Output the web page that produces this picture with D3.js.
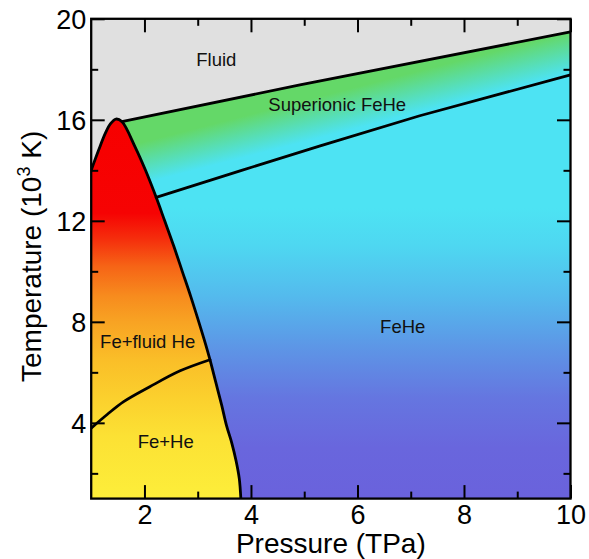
<!DOCTYPE html>
<html><head><meta charset="utf-8">
<script src="https://cdn.jsdelivr.net/npm/d3@7"></script>
<style>
html,body{margin:0;padding:0;background:#fff;}
svg{display:block;font-family:Helvetica,Arial,"Liberation Sans",sans-serif;}
</style>
</head><body>
<svg id="chart" width="589" height="559"></svg>
<script>
// ---------- data ----------
const xDomain = [1, 10];          // Pressure (TPa)
const yDomain = [1, 20];          // Temperature (10^3 K)
const xMajorTicks = [2, 4, 6, 8, 10];
const xMinorTicks = [3, 5, 7, 9];
const yMajorTicks = [4, 8, 12, 16, 20];
const yMinorTicks = [2, 6, 10, 14, 18];

// Fe (+He) stability field outline [P, T]
const feOutline = [[1,14.0],[1.14,14.8],[1.26,15.44],[1.36,15.84],[1.465,16.03],[1.575,15.93],
  [1.83,14.9],[2.02,14.0],[2.22,12.93],[2.38,12.0],[2.55,11.0],[2.71,10.0],[2.87,9.0],[3.02,8.0],
  [3.15,7.1],[3.23,6.5],[3.34,5.6],[3.45,4.7],[3.54,3.9],[3.64,3.2],[3.72,2.5],[3.78,1.8],[3.81,1.0]];
// melting line of superionic FeHe
const meltLine = [[1.575,15.93],[4.92,17.38],[10,19.48]];
// superionic transition line
const superionicLine = [[2.22,12.93],[3.81,13.99],[5.3,14.97],[7.17,16.16],[10,17.78]];
// Fe+He / Fe+fluid He boundary
const heMeltLine = [[1,3.79],[1.3,4.33],[1.61,4.84],[2.1,5.43],[2.67,6.06],[3.23,6.5]];

// region labels
const labelText = ["Fluid", "Superionic FeHe", "FeHe", "Fe+fluid He", "Fe+He"];
const labelP    = [3.35, 5.62, 6.85, 2.06, 2.40];
const labelT    = [18.14, 16.35, 7.55, 6.98, 3.02];

// colour stops [T, colour]
const feStops   = [[16,"rgb(247,0,0)"],[12.3,"rgb(246,3,3)"],[11.3,"rgb(245,45,12)"],[10.2,"rgb(246,100,22)"],
  [9,"rgb(247,140,30)"],[8,"rgb(248,163,35)"],[6.5,"rgb(250,190,40)"],[5,"rgb(251,208,45)"],
  [3.5,"rgb(252,225,52)"],[1,"rgb(253,238,58)"]];
const feHeStops = [[20,"rgb(77,227,243)"],[12.5,"rgb(77,227,243)"],[11,"rgb(78,215,241)"],[9,"rgb(84,186,237)"],
  [7,"rgb(93,150,230)"],[5,"rgb(101,118,224)"],[3,"rgb(105,102,221)"],[1,"rgb(106,98,220)"]];
const fluidColor = "#e0e0e0";
const greenColor = "rgb(100,216,104)";
const cyanColor  = "rgb(77,227,243)";
// mid-line of green->cyan transition in superionic field [P,T]
const superMid = [[2.104,14.37],[9.896,18.61]];

// ---------- drawing ----------
const svg = d3.select("#chart");
const x = d3.scaleLinear().domain(xDomain).range([91.2, 570.5]);
const y = d3.scaleLinear().domain(yDomain).range([498.6, 18.8]);
const X0 = x.range()[0], X1 = x.range()[1], Y0 = y.range()[1], Y1 = y.range()[0];

const defs = svg.append("defs");
defs.append("clipPath").attr("id","plotclip").append("rect")
  .attr("x",X0).attr("y",Y0).attr("width",X1-X0).attr("height",Y1-Y0);

function vGrad(id, stops){
  const g = defs.append("linearGradient").attr("id",id).attr("gradientUnits","userSpaceOnUse")
    .attr("x1",0).attr("x2",0).attr("y1",y(yDomain[1])).attr("y2",y(yDomain[0]));
  const span = y(yDomain[0]) - y(yDomain[1]);
  stops.forEach(s => g.append("stop").attr("offset",(y(s[0])-y(yDomain[1]))/span).attr("stop-color",s[1]));
}
vGrad("feGrad", feStops);
vGrad("feHeGrad", feHeStops);

// superionic diagonal gradient
{
  const ax = x(superMid[0][0]), ay = y(superMid[0][1]);
  const bx = x(superMid[1][0]), by = y(superMid[1][1]);
  let nx = -(by-ay), ny = (bx-ax); const L = Math.hypot(nx,ny); nx/=L; ny/=L;
  if (ny < 0){ nx=-nx; ny=-ny; }
  const h = 20;
  const g = defs.append("linearGradient").attr("id","supGrad").attr("gradientUnits","userSpaceOnUse")
    .attr("x1",ax-h*nx).attr("y1",ay-h*ny).attr("x2",ax+h*nx).attr("y2",ay+h*ny);
  g.append("stop").attr("offset",0).attr("stop-color",greenColor);
  g.append("stop").attr("offset",1).attr("stop-color",cyanColor);
}

const plot = svg.append("g").attr("clip-path","url(#plotclip)");
const lin = d3.line().x(d=>x(d[0])).y(d=>y(d[1]));
const cr  = d3.line().x(d=>x(d[0])).y(d=>y(d[1])).curve(d3.curveCatmullRom.alpha(0.5));

// fluid background
plot.append("rect").attr("x",X0).attr("y",Y0).attr("width",X1-X0).attr("height",Y1-Y0).attr("fill",fluidColor);

// FeHe solid
const feHePoly = [[xDomain[0], superionicLine[0][1]]].concat(superionicLine, [[xDomain[1], yDomain[0]],[xDomain[0], yDomain[0]]]);
plot.append("path").attr("d", lin(feHePoly)+"Z").attr("fill","url(#feHeGrad)");

// superionic FeHe
const supPoly = meltLine.concat(superionicLine.slice().reverse());
plot.append("path").attr("d", lin(supPoly)+"Z").attr("fill","url(#supGrad)");

// Fe + He field
plot.append("path").attr("d", cr(feOutline)+`L${x(xDomain[0])},${y(yDomain[0])}Z`).attr("fill","url(#feGrad)");

// boundary lines
const lineStyle = sel => sel.attr("fill","none").attr("stroke","#000").attr("stroke-width",2.8)
  .attr("stroke-linejoin","round").attr("stroke-linecap","round");
plot.append("path").attr("d", cr(feOutline)).call(lineStyle);
plot.append("path").attr("d", lin(meltLine)).call(lineStyle);
plot.append("path").attr("d", lin(superionicLine)).call(lineStyle);
plot.append("path").attr("d", cr(heMeltLine)).call(lineStyle);

// region labels
svg.append("g").selectAll("text").data(labelText).join("text")
  .attr("x",(d,i)=>x(labelP[i])).attr("y",(d,i)=>y(labelT[i]))
  .attr("text-anchor","middle").attr("font-size",18.5).attr("fill","#111").text(d=>d);

// axes
const MAJ = 13.5, MIN = 7, TW = 2;
function styleAxis(g){
  g.select(".domain").remove();
  g.selectAll(".tick line").attr("stroke","#000").attr("stroke-width",TW);
  g.selectAll(".tick text").attr("fill","#000").attr("font-size",27)
    .attr("font-family",'Helvetica,Arial,"Liberation Sans",sans-serif');
}
svg.append("g").attr("transform",`translate(0,${Y1})`)
  .call(d3.axisBottom(x).tickValues(xMajorTicks).tickSize(-MAJ).tickPadding(6.5).tickFormat(d3.format("d"))).call(styleAxis);
svg.append("g").attr("transform",`translate(0,${Y1})`)
  .call(d3.axisBottom(x).tickValues(xMinorTicks).tickSize(-MIN).tickFormat("")).call(styleAxis);
svg.append("g").attr("transform",`translate(0,${Y0})`)
  .call(d3.axisTop(x).tickValues(xMajorTicks).tickSize(-MAJ).tickFormat("")).call(styleAxis);
svg.append("g").attr("transform",`translate(0,${Y0})`)
  .call(d3.axisTop(x).tickValues(xMinorTicks).tickSize(-MIN).tickFormat("")).call(styleAxis);
svg.append("g").attr("transform",`translate(${X0},0)`)
  .call(d3.axisLeft(y).tickValues(yMajorTicks).tickSize(-MAJ).tickPadding(5).tickFormat(d3.format("d"))).call(styleAxis)
  .selectAll(".tick text").attr("dy","0.35em");
svg.append("g").attr("transform",`translate(${X0},0)`)
  .call(d3.axisLeft(y).tickValues(yMinorTicks).tickSize(-MIN).tickFormat("")).call(styleAxis);
svg.append("g").attr("transform",`translate(${X1},0)`)
  .call(d3.axisRight(y).tickValues(yMajorTicks).tickSize(-MAJ).tickFormat("")).call(styleAxis);
svg.append("g").attr("transform",`translate(${X1},0)`)
  .call(d3.axisRight(y).tickValues(yMinorTicks).tickSize(-MIN).tickFormat("")).call(styleAxis);

// frame
svg.append("rect").attr("x",X0).attr("y",Y0).attr("width",X1-X0).attr("height",Y1-Y0)
  .attr("fill","none").attr("stroke","#000").attr("stroke-width",2.3);

// axis titles
svg.append("text").attr("x",(X0+X1)/2).attr("y",553).attr("text-anchor","middle")
  .attr("font-size",28).attr("fill","#000").text("Pressure (TPa)");
const yt = svg.append("text").attr("transform",`translate(40.5,382) rotate(-90)`)
  .attr("text-anchor","start").attr("font-size",28).attr("fill","#000");
yt.append("tspan").text("Temperature (10");
yt.append("tspan").attr("font-size",18).attr("dy",-11).text("3");
yt.append("tspan").attr("dy",11).text(" K)");
</script>
</body></html>
